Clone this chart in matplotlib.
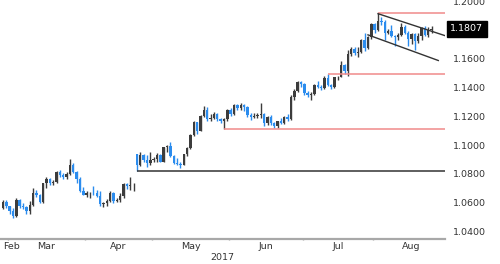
import pandas as pd
import matplotlib
matplotlib.use("Agg")
import matplotlib.pyplot as plt

plt.rcParams['font.family'] = ['Liberation Sans Narrow', 'DejaVu Sans']

# EUR/USD daily bars, 27 Feb 2017 .. 24 Aug 2017
opens = [
    1.0560, 1.0605,
    # Mar
    1.0575, 1.0545, 1.0505, 1.0620, 1.0580, 1.0570, 1.0545, 1.0585, 1.0670, 1.0655,
    1.0605, 1.0735, 1.0765, 1.0740, 1.0745, 1.0810, 1.0795, 1.0780, 1.0800, 1.0865,
    1.0815, 1.0765, 1.0680,
    # Apr
    1.0655, 1.0665, 1.0670, 1.0665, 1.0645, 1.0590, 1.0600, 1.0610, 1.0670, 1.0615,
    1.0620, 1.0645, 1.0730, 1.0715, 1.0720, 1.0935, 1.0860, 1.0930, 1.0895, 1.0875,
    # May
    1.0895, 1.0900, 1.0930, 1.0885, 1.0985, 1.0995, 1.0925, 1.0875, 1.0870, 1.0865,
    1.0935, 1.0980, 1.1070, 1.1160, 1.1100, 1.1205, 1.1240, 1.1180, 1.1185, 1.1215,
    1.1180, 1.1165, 1.1180,
    # Jun
    1.1245, 1.1215, 1.1280, 1.1255, 1.1280, 1.1265, 1.1210, 1.1195, 1.1200, 1.1210,
    1.1215, 1.1150, 1.1195, 1.1150, 1.1130, 1.1165, 1.1150, 1.1195, 1.1180, 1.1335,
    1.1375, 1.1440,
    # Jul
    1.1425, 1.1360, 1.1350, 1.1355, 1.1420, 1.1400, 1.1395, 1.1465, 1.1415, 1.1400,
    1.1470, 1.1475, 1.1555, 1.1515, 1.1635, 1.1665, 1.1640, 1.1645, 1.1730, 1.1675,
    1.1750,
    # Aug
    1.1840, 1.1800, 1.1860, 1.1855, 1.1775, 1.1790, 1.1755, 1.1750, 1.1765, 1.1820,
    1.1780, 1.1735, 1.1770, 1.1725, 1.1760, 1.1815, 1.1765, 1.1800,
]
highs = [
    1.0620, 1.0618,
    1.0575, 1.0560, 1.0635, 1.0625, 1.0595, 1.0575, 1.0615, 1.0700, 1.0685, 1.0660,
    1.0740, 1.0780, 1.0770, 1.0760, 1.0820, 1.0825, 1.0805, 1.0815, 1.0906, 1.0875,
    1.0820, 1.0775, 1.0710,
    1.0680, 1.0675, 1.0715, 1.0685, 1.0680, 1.0605, 1.0625, 1.0680, 1.0675, 1.0630,
    1.0665, 1.0735, 1.0740, 1.0775, 1.0735, 1.0937, 1.0950, 1.0940, 1.0930, 1.0950,
    1.0915, 1.0945, 1.0935, 1.0990, 1.1000, 1.1020, 1.0930, 1.0910, 1.0885, 1.0935,
    1.0990, 1.1075, 1.1170, 1.1160, 1.1210, 1.1268, 1.1265, 1.1215, 1.1230, 1.1220,
    1.1190, 1.1190, 1.1250,
    1.1255, 1.1285, 1.1285, 1.1295, 1.1285, 1.1270, 1.1225, 1.1220, 1.1225, 1.1295,
    1.1220, 1.1200, 1.1210, 1.1160, 1.1170, 1.1185, 1.1200, 1.1215, 1.1345, 1.1390,
    1.1445, 1.1445,
    1.1430, 1.1375, 1.1370, 1.1425, 1.1445, 1.1415, 1.1480, 1.1490, 1.1425, 1.1475,
    1.1480, 1.1585, 1.1560, 1.1660, 1.1680, 1.1680, 1.1680, 1.1735, 1.1775, 1.1755,
    1.1845,
    1.1845, 1.1915, 1.1890, 1.1870, 1.1805, 1.1830, 1.1765, 1.1775, 1.1845, 1.1830,
    1.1790, 1.1780, 1.1780, 1.1780, 1.1820, 1.1825, 1.1820, 1.1825,
]
lows = [
    1.0555, 1.0565,
    1.0520, 1.0495, 1.0500, 1.0560, 1.0555, 1.0525, 1.0525, 1.0580, 1.0640, 1.0600,
    1.0600, 1.0705, 1.0725, 1.0720, 1.0735, 1.0775, 1.0765, 1.0765, 1.0795, 1.0805,
    1.0740, 1.0675, 1.0650,
    1.0640, 1.0635, 1.0650, 1.0640, 1.0580, 1.0570, 1.0580, 1.0605, 1.0600, 1.0605,
    1.0605, 1.0635, 1.0695, 1.0690, 1.0680, 1.0821, 1.0855, 1.0880, 1.0850, 1.0865,
    1.0880, 1.0885, 1.0880, 1.0880, 1.0955, 1.0915, 1.0870, 1.0860, 1.0840, 1.0860,
    1.0925, 1.0975, 1.1065, 1.1075, 1.1095, 1.1195, 1.1165, 1.1165, 1.1180, 1.1165,
    1.1155, 1.1110, 1.1170,
    1.1205, 1.1210, 1.1240, 1.1245, 1.1235, 1.1195, 1.1175, 1.1185, 1.1190, 1.1190,
    1.1130, 1.1140, 1.1140, 1.1120, 1.1120, 1.1145, 1.1145, 1.1170, 1.1175, 1.1315,
    1.1370, 1.1400,
    1.1345, 1.1335, 1.1315, 1.1345, 1.1395, 1.1385, 1.1390, 1.1410, 1.1390, 1.1395,
    1.1450, 1.1470, 1.1490, 1.1480, 1.1620, 1.1625, 1.1610, 1.1640, 1.1650, 1.1670,
    1.1735,
    1.1775, 1.1795, 1.1830, 1.1730, 1.1770, 1.1750, 1.1690, 1.1730, 1.1760, 1.1770,
    1.1685, 1.1700, 1.1660, 1.1710, 1.1730, 1.1760, 1.1750, 1.1780,
]
closes = [
    1.0605, 1.0575,
    1.0545, 1.0505, 1.0620, 1.0580, 1.0570, 1.0545, 1.0585, 1.0670, 1.0655, 1.0605,
    1.0735, 1.0765, 1.0740, 1.0745, 1.0810, 1.0795, 1.0780, 1.0800, 1.0865, 1.0815,
    1.0765, 1.0680, 1.0655,
    1.0665, 1.0670, 1.0665, 1.0645, 1.0590, 1.0600, 1.0610, 1.0670, 1.0615, 1.0620,
    1.0645, 1.0730, 1.0715, 1.0720, 1.0725, 1.0860, 1.0930, 1.0895, 1.0875, 1.0895,
    1.0900, 1.0930, 1.0885, 1.0985, 1.0995, 1.0925, 1.0875, 1.0870, 1.0865, 1.0935,
    1.0980, 1.1070, 1.1160, 1.1100, 1.1205, 1.1240, 1.1180, 1.1185, 1.1215, 1.1180,
    1.1165, 1.1180, 1.1245,
    1.1215, 1.1280, 1.1255, 1.1280, 1.1265, 1.1210, 1.1195, 1.1200, 1.1210, 1.1215,
    1.1150, 1.1195, 1.1150, 1.1130, 1.1165, 1.1150, 1.1195, 1.1180, 1.1335, 1.1375,
    1.1440, 1.1425,
    1.1360, 1.1350, 1.1355, 1.1420, 1.1400, 1.1395, 1.1465, 1.1415, 1.1400, 1.1470,
    1.1475, 1.1555, 1.1515, 1.1635, 1.1665, 1.1640, 1.1645, 1.1730, 1.1675, 1.1750,
    1.1840,
    1.1800, 1.1860, 1.1855, 1.1775, 1.1790, 1.1755, 1.1750, 1.1765, 1.1820, 1.1780,
    1.1735, 1.1770, 1.1725, 1.1760, 1.1815, 1.1765, 1.1800, 1.1807,
]

last_price = "1.1807"
y_ticks = [1.04, 1.06, 1.08, 1.10, 1.12, 1.14, 1.16, 1.20]

# support / resistance levels: (start date, price)
black_level = ("2017-04-24", 1.0821)
red_levels = [("2017-05-30", 1.1115), ("2017-07-12", 1.1495), ("2017-08-02", 1.1918)]
# falling channel: (date, price) pairs
channel_upper = [("2017-08-02", 1.1912), ("2017-08-31", 1.1752)]
channel_lower = [("2017-07-28", 1.1765), ("2017-08-28", 1.1587)]

df = pd.DataFrame({"open": opens, "high": highs, "low": lows, "close": closes},
                  index=pd.bdate_range("2017-02-27", periods=len(closes)))
all_days = pd.bdate_range("2017-02-27", "2017-09-29")
pos = {d: i for i, d in enumerate(all_days)}


def xp(d):
    return pos[pd.Timestamp(d)]


x = [pos[d] for d in df.index]
up = df["close"] >= df["open"]
col = ["#3c3c3c" if u else "#2b8cee" for u in up]

fig = plt.figure(figsize=(5, 2.64), dpi=100)
ax = fig.add_axes([0, 1 - 239 / 264, 445 / 500, 239 / 264])

x_left, x_right = -0.88, 132
ax.set_xlim(x_left, x_right)
ax.set_ylim(1.0348, 1.2007)

ax.vlines(x, df["low"], df["high"], colors=col, linewidth=1.0)
body_lo = df[["open", "close"]].min(axis=1)
body_h = (df["close"] - df["open"]).abs().clip(lower=0.0005)
ax.bar(x, body_h, bottom=body_lo, width=0.72, color=col, linewidth=0)

ax.hlines(black_level[1], xp(black_level[0]), x_right, colors="#333333", linewidth=1.1)
for d, lv in red_levels:
    ax.hlines(lv, xp(d), x_right, colors="#f08a8a", linewidth=1.1)
for seg in (channel_upper, channel_lower):
    ax.plot([xp(seg[0][0]), xp(seg[1][0])], [seg[0][1], seg[1][1]],
            color="#333333", linewidth=1.0)

for s in ["left", "right", "top"]:
    ax.spines[s].set_visible(False)
ax.spines["bottom"].set_color("#a8a8a8")
ax.spines["bottom"].set_linewidth(1.6)

ax.yaxis.tick_right()
ax.set_yticks(y_ticks)
ax.set_yticklabels(["%.4f" % v for v in y_ticks])
ax.tick_params(axis="y", length=0, pad=6, labelsize=6.8, labelcolor="#333333")

# month boundaries as small ticks, labels centred on each month
months = pd.period_range("2017-02", "2017-08", freq="M")
bounds = []
for m in months:
    days = [pos[d] for d in all_days if d.to_period("M") == m]
    start, end = days[0] - 0.5, days[-1] + 0.5
    if m.start_time < all_days[0]:
        # month only partly shown: keep its label inside the axes
        ax.text(x_left + 1.0, -0.012, m.strftime("%b"), transform=ax.get_xaxis_transform(),
                ha="left", va="top", fontsize=6.8, color="#333333")
    else:
        bounds.append(start)
        ax.text((start + end) / 2, -0.012, m.strftime("%b"),
                transform=ax.get_xaxis_transform(),
                ha="center", va="top", fontsize=6.8, color="#333333")
ax.set_xticks(bounds)
ax.set_xticklabels([])
ax.tick_params(axis="x", which="major", length=2, width=1, color="#a8a8a8", direction="inout")
ax.text(0.5, -0.06, "2017", transform=ax.transAxes, ha="center", va="top",
        fontsize=6.8, color="#333333")

ax.text(1.012, df["close"].iloc[-1], last_price, transform=ax.get_yaxis_transform(),
        ha="left", va="center", fontsize=6.8, color="white", clip_on=False,
        bbox=dict(boxstyle="square,pad=0.4", fc="black", ec="black"))

fig.savefig("out.png", dpi=100)
